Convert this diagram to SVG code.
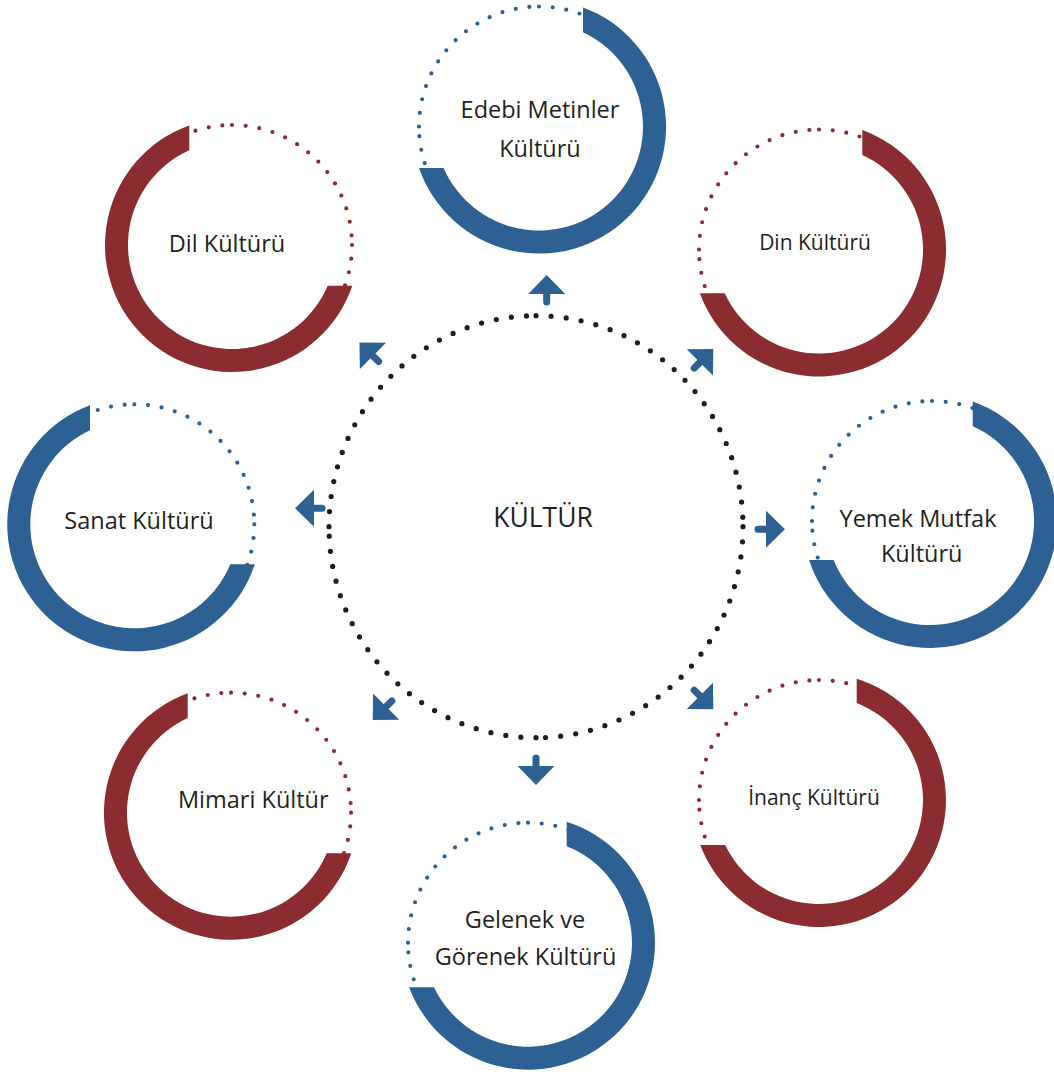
<svg xmlns="http://www.w3.org/2000/svg" xmlns:xlink="http://www.w3.org/1999/xlink" width="1054" height="1072" viewBox="0 0 1054 1072">
<style>
  .lbl { font-family: "Open Sans", "Noto Sans", sans-serif; font-size: 23.5px; fill: #231F20; text-anchor: middle; }
  .sm { font-size: 21px; }
  .big { font-size: 26.5px; }
  .blue { fill: #2D6193; }
  .red { fill: #8B2C30; }
  .dotb { fill: none; stroke: #2D6193; stroke-width: 4.2; stroke-linecap: round; stroke-dasharray: 0 13.75; }
  .dotr { fill: none; stroke: #8B2C30; stroke-width: 4.2; stroke-linecap: round; stroke-dasharray: 0 13.75; }
  .dotk { fill: none; stroke: #1E1C1D; stroke-width: 5.2; stroke-linecap: round; stroke-dasharray: 0 15.17; }
</style>
<defs>
  <g id="arrow">
    <path d="M0,0 L18.5,19 L-18.5,19 Z" fill="#2D6193"/>
    <line x1="0" y1="18" x2="0" y2="27" stroke="#2D6193" stroke-width="7" stroke-linecap="round"/>
  </g>
</defs>

<g id="center">
  <path class="dotk" d="M536,315.7 A207,211 0 0 1 743,526.7 M743,526.7 A207,211 0 0 1 536,737.7 M536,737.7 A207,211 0 0 1 329,526.7 M329,526.7 A207,211 0 0 1 536,315.7"/>
  <text class="lbl big" x="543" y="526.7">KÜLTÜR</text>
</g>

<g id="edebi">
  <path class="dotb" d="M539,6.5 A120,120 0 0 1 659,126.5 M659,126.5 A120,120 0 0 1 539,246.5 M539,246.5 A120,120 0 0 1 419,126.5 M419,126.5 A120,120 0 0 1 539,6.5"/>
  <path class="blue" d="M583,7.4 A127,127 0 1 1 419,168 L443.6,168 A104,104 0 1 0 583,32.3 Z"/>
  <text class="lbl" x="540" y="118.3">Edebi Metinler</text>
  <text class="lbl" x="540" y="156.7">Kültürü</text>
</g>

<g id="dil">
  <path class="dotr" d="M232,125 A120,120 0 0 1 352,245 M352,245 A120,120 0 0 1 232,365 M232,365 A120,120 0 0 1 112,245 M112,245 A120,120 0 0 1 232,125"/>
  <path class="red" d="M189.3,125.4 A127,127 0 1 0 352.3,285.7 L327.7,285.7 A104,104 0 1 1 189.3,150.2 Z"/>
  <text class="lbl" x="227" y="251.7">Dil Kültürü</text>
</g>

<g id="din">
  <path class="dotr" d="M819,129.5 A120,120 0 0 1 939,249.5 M939,249.5 A120,120 0 0 1 819,369.5 M819,369.5 A120,120 0 0 1 699,249.5 M699,249.5 A120,120 0 0 1 819,129.5"/>
  <path class="red" d="M862.3,130.1 A127,127 0 1 1 699.8,293.3 L724.7,293.3 A104,104 0 1 0 862.3,154.9 Z"/>
  <text class="lbl sm" x="815" y="250">Din Kültürü</text>
</g>

<g id="sanat">
  <path class="dotb" d="M134.3,404.3 A120,120 0 0 1 254.3,524.3 M254.3,524.3 A120,120 0 0 1 134.3,644.3 M134.3,644.3 A120,120 0 0 1 14.3,524.3 M14.3,524.3 A120,120 0 0 1 134.3,404.3"/>
  <path class="blue" d="M90,405.3 A127,127 0 1 0 254.8,564.3 L230.3,564.3 A104,104 0 1 1 90,430.2 Z"/>
  <text class="lbl" x="139" y="529.3">Sanat Kültürü</text>
</g>

<g id="yemek">
  <path class="dotb" d="M932,401 A120,120 0 0 1 1052,521 M1052,521 A120,120 0 0 1 932,641 M932,641 A120,120 0 0 1 812,521 M812,521 A120,120 0 0 1 932,401"/>
  <path class="blue" d="M972.7,401.4 A127,127 0 1 1 809.1,560 L833.6,560 A104,104 0 1 0 972.7,426.2 Z"/>
  <text class="lbl" x="918" y="526.7">Yemek Mutfak</text>
  <text class="lbl" x="921.7" y="561.7">Kültürü</text>
</g>

<g id="mimari">
  <path class="dotr" d="M231,692.7 A120,120 0 0 1 351,812.7 M351,812.7 A120,120 0 0 1 231,932.7 M231,932.7 A120,120 0 0 1 111,812.7 M111,812.7 A120,120 0 0 1 231,692.7"/>
  <path class="red" d="M187.7,693.3 A127,127 0 1 0 351.3,853.3 L326.7,853.3 A104,104 0 1 1 187.7,718.1 Z"/>
  <text class="lbl" x="253.3" y="808.3">Mimari Kültür</text>
</g>

<g id="inanc">
  <path class="dotr" d="M819,680 A120,120 0 0 1 939,800 M939,800 A120,120 0 0 1 819,920 M819,920 A120,120 0 0 1 699,800 M699,800 A120,120 0 0 1 819,680"/>
  <path class="red" d="M856.7,678.7 A127,127 0 1 1 700.2,845 L725.2,845 A104,104 0 1 0 856.7,703.1 Z"/>
  <text class="lbl sm" x="814" y="805">İnanç Kültürü</text>
</g>

<g id="gelenek">
  <path class="dotb" d="M528,822.7 A120,120 0 0 1 648,942.7 M648,942.7 A120,120 0 0 1 528,1062.7 M528,1062.7 A120,120 0 0 1 408,942.7 M408,942.7 A120,120 0 0 1 528,822.7"/>
  <path class="blue" d="M566.7,821.7 A127,127 0 1 1 409.1,987.3 L434,987.3 A104,104 0 1 0 566.7,846.2 Z"/>
  <text class="lbl" x="525" y="928.3">Gelenek ve</text>
  <text class="lbl" x="525.5" y="965">Görenek Kültürü</text>
</g>

<g id="connectors">
  <use xlink:href="#arrow" transform="translate(546.7,275)"/>
  <use xlink:href="#arrow" transform="translate(536,785) rotate(180)"/>
  <use xlink:href="#arrow" transform="translate(295,508.3) rotate(-90)"/>
  <use xlink:href="#arrow" transform="translate(785,529.3) rotate(90)"/>
  <use xlink:href="#arrow" transform="translate(359.5,342.5) rotate(-45)"/>
  <use xlink:href="#arrow" transform="translate(713.3,349) rotate(45)"/>
  <use xlink:href="#arrow" transform="translate(372.7,720) rotate(-135)"/>
  <use xlink:href="#arrow" transform="translate(713.3,709.3) rotate(135)"/>
</g>
</svg>
